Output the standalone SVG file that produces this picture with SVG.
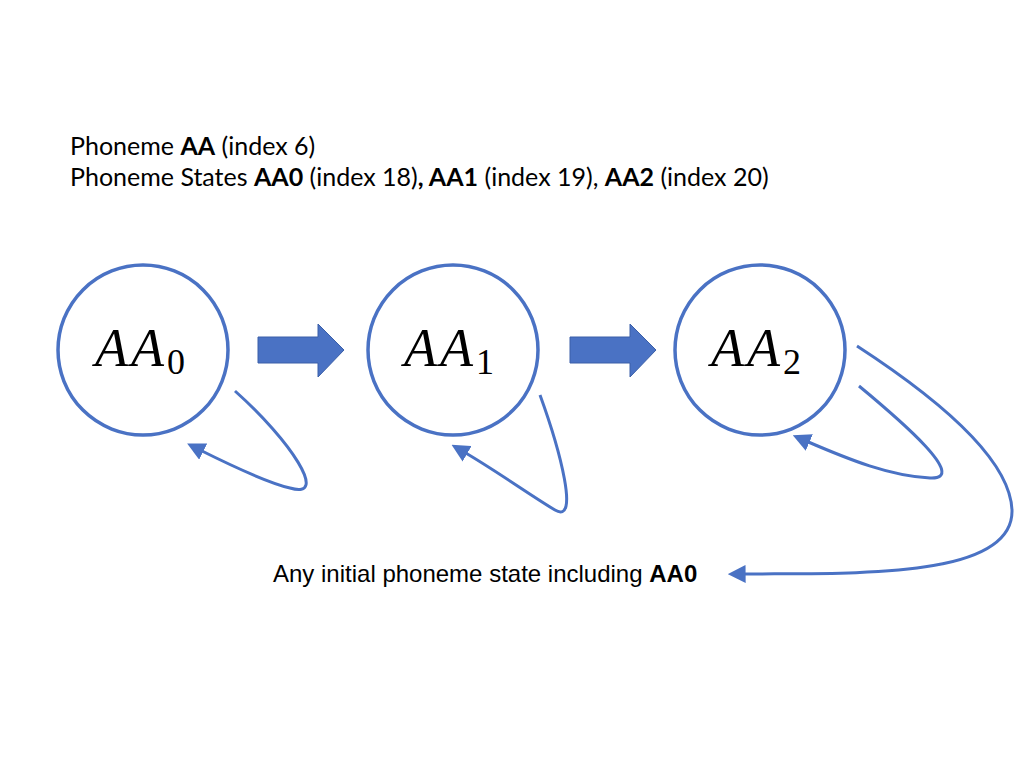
<svg xmlns="http://www.w3.org/2000/svg" width="1024" height="768" viewBox="0 0 1024 768">
<style>
.node{fill:#fff;stroke:#4A72C4;stroke-width:3.5}
.math{font-family:"Liberation Serif",serif;font-style:italic;font-size:54px;fill:#000;letter-spacing:3px}
.sub{font-family:"Liberation Serif",serif;font-style:normal;font-size:36px;letter-spacing:0}
.con{fill:none;stroke:#4A72C4;stroke-width:3}
.blk{fill:#4A72C4;stroke:#3A5FA8;stroke-width:1}
.hdr{font-family:"Lato","Open Sans",sans-serif;font-size:25px;fill:#000}
.cap{font-family:"Liberation Sans",Arial,sans-serif;font-size:24px;fill:#000}
</style>
<defs>
<marker id="ah" viewBox="0 0 10 10" refX="2" refY="5" markerWidth="6" markerHeight="6" orient="auto-start-reverse" markerUnits="strokeWidth">
<path d="M0,0 L10,5 L0,10 z" fill="#4A72C4"/>
</marker>
</defs>
<text class="hdr" x="70" y="155">Phoneme <tspan font-weight="bold">AA</tspan> (index 6)</text>
<text class="hdr" x="70" y="186">Phoneme States <tspan font-weight="bold">AA0</tspan> (index 18)<tspan font-weight="bold">, AA1</tspan> (index 19), <tspan font-weight="bold">AA2</tspan> (index 20)</text>
<g id="n0">
<circle class="node" cx="143" cy="350" r="85"/>
<text class="math" x="95" y="366">AA<tspan class="sub" dy="8">0</tspan></text>
</g>
<g id="n1">
<circle class="node" cx="453" cy="350" r="85"/>
<text class="math" x="404" y="366">AA<tspan class="sub" dy="8">1</tspan></text>
</g>
<g id="n2">
<circle class="node" cx="760" cy="350" r="85"/>
<text class="math" x="711" y="366">AA<tspan class="sub" dy="8">2</tspan></text>
</g>
<g id="connectors">
<path class="blk" d="M258,337 H318 V324 L344,350 L318,377 V363 H258 Z"/>
<path class="blk" d="M570,337 H630 V324 L656,350 L630,377 V363 H570 Z"/>
<path class="con" marker-end="url(#ah)" d="M235,391 C290,440 330,500 290,488 C265,482 230,465 200,450"/>
<path class="con" marker-end="url(#ah)" d="M540,395 C560,450 580,525 555,510 C530,495 495,470 464,452"/>
<path class="con" marker-end="url(#ah)" d="M859,386 C900,420 970,480 930,478 C890,476 850,460 806,441"/>
<path class="con" marker-end="url(#ah)" d="M857,346 C940,400 1010,460 1012,510 C1014,580 850,573 742,574"/>
</g>
<text class="cap" x="273" y="582">Any initial phoneme state including <tspan font-weight="bold">AA0</tspan></text>
</svg>
